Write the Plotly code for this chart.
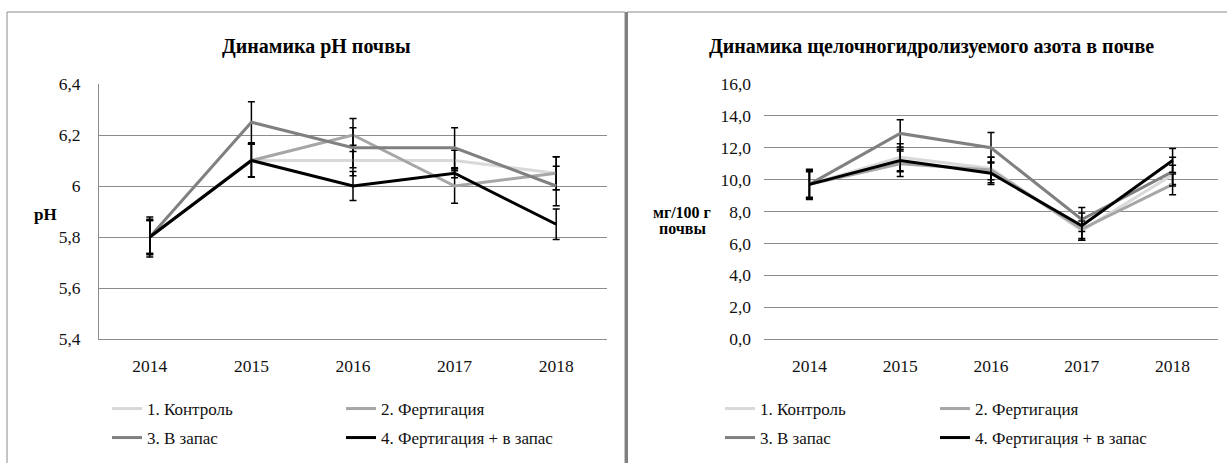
import plotly.graph_objects as go

W, H = 1227, 463

years = ["2014", "2015", "2016", "2017", "2018"]
series_names = ["1. Контроль", "2. Фертигация", "3. В запас", "4. Фертигация + в запас"]
series_colors = ["#d9d9d9", "#a6a6a6", "#808080", "#000000"]

# pH of soil
ph_control = [5.80, 6.10, 6.10, 6.10, 6.05]
ph_fert = [5.80, 6.10, 6.20, 6.00, 6.05]
ph_stock = [5.80, 6.25, 6.15, 6.15, 6.00]
ph_fert_stock = [5.80, 6.10, 6.00, 6.05, 5.85]
ph_err_control = [0.065, 0.065, 0.060, 0.040, 0.065]
ph_err_fert = [0.070, 0.065, 0.065, 0.068, 0.065]
ph_err_stock = [0.065, 0.080, 0.078, 0.078, 0.077]
ph_err_fert_stock = [0.078, 0.065, 0.057, 0.018, 0.060]

# Alkali-hydrolysable nitrogen, mg/100 g soil
n_control = [9.7, 11.4, 10.7, 6.8, 10.3]
n_fert = [9.7, 11.0, 10.6, 6.9, 9.7]
n_stock = [9.7, 12.9, 12.0, 7.5, 10.5]
n_fert_stock = [9.7, 11.2, 10.4, 7.1, 11.2]
n_err_control = [0.85, 0.85, 0.70, 0.60, 0.60]
n_err_fert = [0.80, 0.80, 0.80, 0.70, 0.65]
n_err_stock = [0.95, 0.85, 0.95, 0.75, 0.90]
n_err_fert_stock = [0.90, 0.70, 0.70, 0.80, 0.75]

ph_ticks = [5.4, 5.6, 5.8, 6.0, 6.2, 6.4]
ph_ticktext = ["5,4", "5,6", "5,8", "6", "6,2", "6,4"]
n_ticks = [0, 2, 4, 6, 8, 10, 12, 14, 16]
n_ticktext = ["0,0", "2,0", "4,0", "6,0", "8,0", "10,0", "12,0", "14,0", "16,0"]

title_left = "Динамика pH почвы"
title_right = "Динамика щелочногидролизуемого азота в почве"
ylabel_left = "pH"
ylabel_right_1 = "мг/100 г"
ylabel_right_2 = "почвы"

FONT = "Times New Roman, Liberation Serif, DejaVu Serif, serif"
GRID = "#8c8c8c"


def px(x):
    return x / W


def py(y):
    return 1 - y / H


fig = go.Figure()

ph_series = [ph_control, ph_fert, ph_stock, ph_fert_stock]
ph_errs = [ph_err_control, ph_err_fert, ph_err_stock, ph_err_fert_stock]
n_series = [n_control, n_fert, n_stock, n_fert_stock]
n_errs = [n_err_control, n_err_fert, n_err_stock, n_err_fert_stock]

left_legends = ["legend", "legend", "legend2", "legend2"]
right_legends = ["legend3", "legend3", "legend4", "legend4"]

for i in range(4):
    fig.add_trace(go.Scatter(
        x=years, y=ph_series[i], mode="lines", name=series_names[i],
        line=dict(color=series_colors[i], width=3),
        error_y=dict(type="data", array=ph_errs[i], color="#000000", thickness=1.5, width=3.5),
        xaxis="x", yaxis="y", legend=left_legends[i],
    ))
for i in range(4):
    fig.add_trace(go.Scatter(
        x=years, y=n_series[i], mode="lines", name=series_names[i],
        line=dict(color=series_colors[i], width=3),
        error_y=dict(type="data", array=n_errs[i], color="#000000", thickness=1.5, width=3.5),
        xaxis="x2", yaxis="y2", legend=right_legends[i],
    ))

tickfont = dict(family=FONT, size=17.5, color="#111111")
ydom = [py(339), py(84)]

legend_common = dict(
    orientation="h", entrywidthmode="pixels",
    xanchor="left", yanchor="middle", font=dict(family=FONT, size=17, color="#111111"),
    bgcolor="rgba(0,0,0,0)", itemwidth=30, tracegroupgap=0,
)

fig.update_layout(
    template="none",
    width=W, height=H,
    margin=dict(l=0, r=0, t=0, b=0, pad=0, autoexpand=False),
    paper_bgcolor="white", plot_bgcolor="white",
    xaxis=dict(domain=[px(99), px(607)], type="category", anchor="y", range=[-0.5, 4.5],
               showgrid=False, showline=True, linecolor=GRID, linewidth=1, automargin=False,
               ticks="", tickfont=tickfont, ticklabelstandoff=11),
    yaxis=dict(domain=ydom, range=[5.4, 6.4], anchor="x", automargin=False,
               tickvals=ph_ticks, ticktext=ph_ticktext,
               showgrid=True, gridcolor=GRID, gridwidth=1, zeroline=False,
               showline=True, linecolor=GRID, linewidth=1,
               ticks="", tickfont=tickfont, ticklabelstandoff=14),
    xaxis2=dict(domain=[px(764), px(1218)], type="category", anchor="y2", range=[-0.5, 4.5],
                showgrid=False, showline=True, linecolor=GRID, linewidth=1, automargin=False,
                ticks="", tickfont=tickfont, ticklabelstandoff=11),
    yaxis2=dict(domain=ydom, range=[0, 16], anchor="x2", automargin=False,
                tickvals=n_ticks, ticktext=n_ticktext,
                showgrid=True, gridcolor=GRID, gridwidth=1, zeroline=False,
                showline=False, ticks="", tickfont=tickfont, ticklabelstandoff=12),
    legend=dict(x=px(107), y=py(409), entrywidth=189, **legend_common),
    legend2=dict(x=px(107), y=py(438), entrywidth=189, **legend_common),
    legend3=dict(x=px(720), y=py(409), entrywidth=170, **legend_common),
    legend4=dict(x=px(720), y=py(438), entrywidth=170, **legend_common),
    showlegend=True,
)

# chart frames
fig.add_shape(type="rect", xref="paper", yref="paper",
              x0=px(7), x1=px(625), y0=py(480), y1=py(12),
              line=dict(color="#8c8c8c", width=1), fillcolor="rgba(0,0,0,0)", layer="below")
fig.add_shape(type="line", xref="paper", yref="paper",
              x0=px(627), x1=px(1240), y0=py(12), y1=py(12),
              line=dict(color="#8c8c8c", width=1), layer="below")
fig.add_shape(type="line", xref="paper", yref="paper",
              x0=px(626.5), x1=px(626.5), y0=py(480), y1=py(12),
              line=dict(color="#808080", width=3), layer="below")

titlefont = dict(family=FONT, size=20, color="#000000")
labfont = dict(family=FONT, size=17, color="#000000")
fig.add_annotation(x=px(316), y=py(46), xref="paper", yref="paper", text="<b>%s</b>" % title_left,
                   showarrow=False, font=titlefont, xanchor="center", yanchor="middle")
fig.add_annotation(x=px(931), y=py(46), xref="paper", yref="paper", text="<b>%s</b>" % title_right,
                   showarrow=False, font=titlefont, xanchor="center", yanchor="middle")
fig.add_annotation(x=px(32), y=py(214), xref="paper", yref="paper", text="<b>%s</b>" % ylabel_left,
                   showarrow=False, font=labfont, xanchor="left", yanchor="middle")
fig.add_annotation(x=px(682), y=py(212), xref="paper", yref="paper", text="<b>%s</b>" % ylabel_right_1,
                   showarrow=False, font=dict(family=FONT, size=16, color="#000000"),
                   xanchor="center", yanchor="middle")
fig.add_annotation(x=px(682), y=py(228), xref="paper", yref="paper", text="<b>%s</b>" % ylabel_right_2,
                   showarrow=False, font=dict(family=FONT, size=16, color="#000000"),
                   xanchor="center", yanchor="middle")

fig.write_html("out.html", config={"displayModeBar": False},
               post_script="document.body.style.margin='0';")
